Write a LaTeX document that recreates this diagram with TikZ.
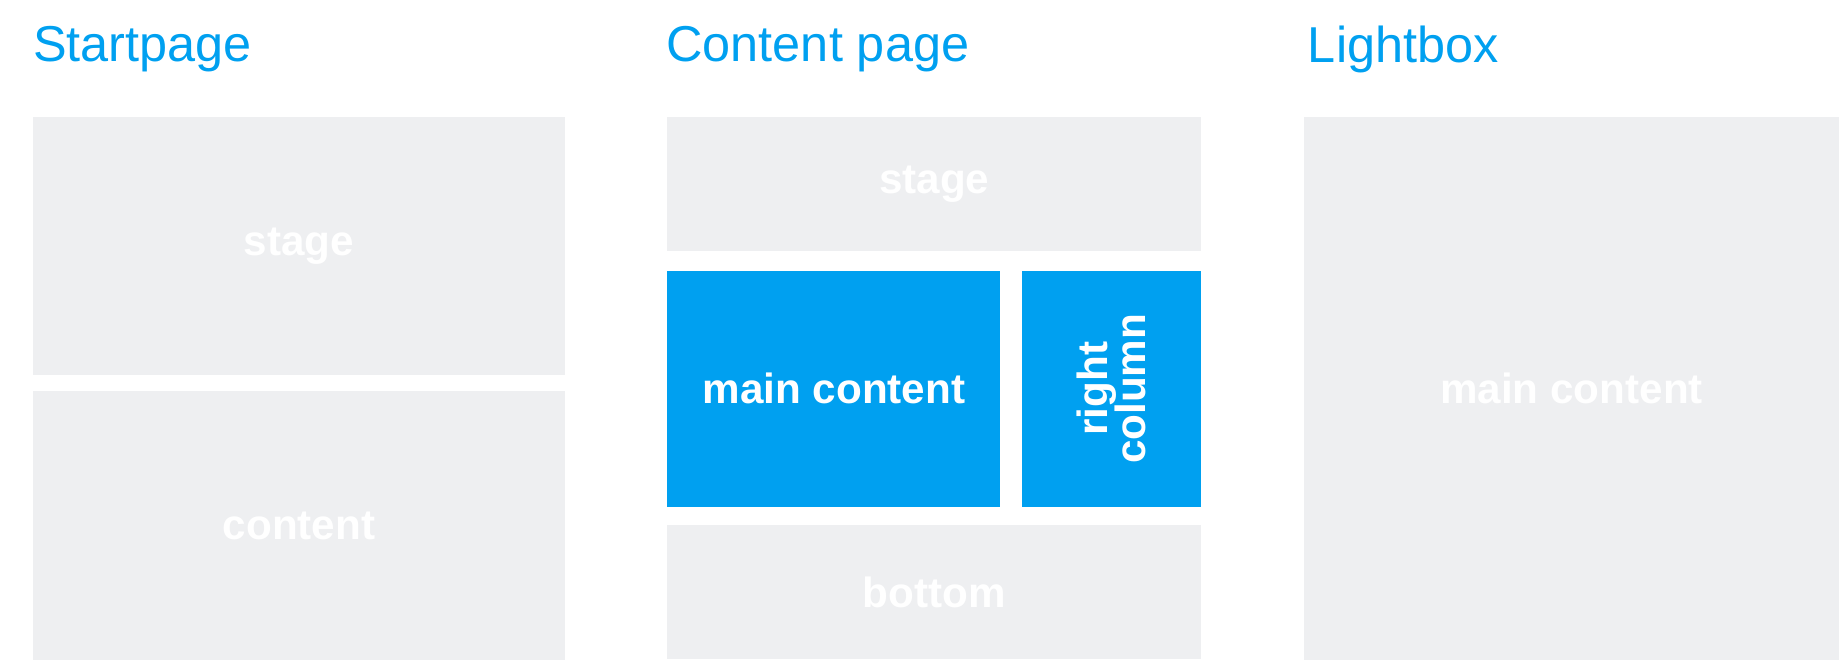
\documentclass[tikz,border=0pt]{standalone}
\usepackage{fontspec}
\setmainfont{Liberation Sans}
\definecolor{gbox}{HTML}{EEEFF1}
\definecolor{bl}{HTML}{00A0F0}
\begin{document}
\begin{tikzpicture}[x=1pt,y=1pt,
  ttl/.style={anchor=west,text=bl,font=\fontsize{43}{48}\selectfont,inner sep=0},
  lbl/.style={text=white,font=\bfseries\fontsize{36}{38}\selectfont,align=center},
  gb/.style={fill=gbox},
  bb/.style={fill=bl}]
\useasboundingbox (0,0) rectangle (1568,-566);
\node[ttl] (t1) at (28,-42) {Startpage};
\node[ttl] (t2) at (568,-42) {Content page};
\node[ttl] (t3) at (1115,-42) {Lightbox};
\fill[gb] (28,-100) rectangle (482,-320) node[lbl,midway] (s1) {stage};
\fill[gb] (28,-333) rectangle (482,-563) node[lbl,midway] (c1) {content};
\fill[gb] (569,-100) rectangle (1024,-214) node[lbl,midway] (s2) {stage};
\fill[bb] (569,-231) rectangle (853,-432) node[lbl,midway] (m2) {main content};
\fill[bb] (871,-231) rectangle (1024,-432) node[lbl,midway,rotate=90] (r2) {right\\[-6pt]column};
\fill[gb] (569,-448) rectangle (1024,-562) node[lbl,midway] (b2) {bottom};
\fill[gb] (1112,-100) rectangle (1568,-563) node[lbl,midway] (m3) {main content};
\end{tikzpicture}
\end{document}
